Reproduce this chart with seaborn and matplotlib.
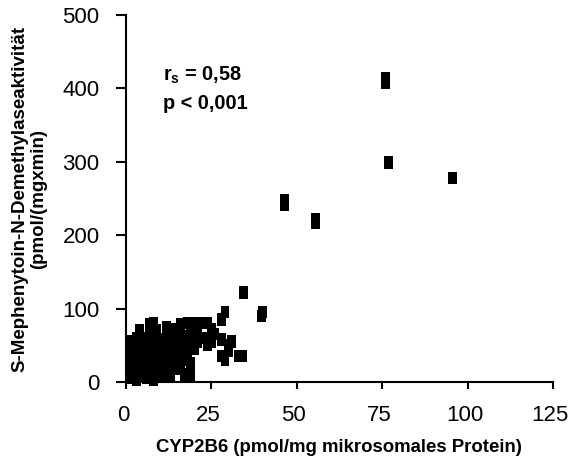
import numpy as np
import seaborn as sns
import matplotlib.pyplot as plt
import matplotlib.transforms as mtransforms

# CYP2B6 content vs S-mephenytoin N-demethylase activity
cyp2b6 = [1, 1, 1, 1, 1,
          2, 2, 2, 2,
          3, 3, 3, 3, 3,
          4, 4, 4, 4, 4,
          5, 5, 5, 5,
          6, 6, 6, 6,
          7, 7, 7, 7, 7,
          8, 8, 8, 8, 8,
          9, 9, 9, 9, 9,
          10, 10, 10,
          11, 11, 11, 11,
          12, 12, 12, 12, 12,
          13, 13, 13, 13, 13,
          14, 14, 14, 14,
          15, 15, 15, 15,
          16, 16, 16, 16,
          17, 17, 17, 17,
          18, 18, 18,
          19, 19, 19, 19,
          20, 20, 20,
          21, 21,
          22, 23, 24, 24, 25, 25, 26,
          28, 28, 28, 29, 29, 30, 30, 31, 33, 34,
          34.5, 39.7, 40, 46.3, 46.3, 55.5, 55.5, 76, 76, 77, 95.6]
activity = [5, 18, 30, 42, 55,
            10, 25, 38, 50,
            3, 15, 28, 45, 60,
            8, 22, 35, 52, 70,
            12, 30, 48, 60,
            5, 20, 40, 55,
            15, 28, 45, 62, 78,
            3, 25, 38, 50, 80,
            10, 30, 45, 60, 70,
            18, 35, 55,
            8, 25, 42, 58,
            15, 30, 48, 62, 75,
            10, 22, 40, 55, 70,
            28, 45, 60, 72,
            18, 35, 52, 65,
            25, 40, 58, 78,
            10, 30, 48, 62,
            40, 55, 80,
            10, 25, 50, 65,
            45, 60, 80,
            55, 70,
            80, 60, 80, 50, 55, 72, 65,
            85, 35, 58, 95, 30, 50, 42, 55, 35, 35,
            122, 90, 95, 242, 248, 217, 222, 408, 414, 299, 278]

sns.set_theme(style="white")
plt.rcParams['font.family'] = ['Liberation Sans', 'DejaVu Sans']
plt.rcParams['mathtext.fontset'] = 'custom'
plt.rcParams['mathtext.rm'] = 'Liberation Sans:bold'
plt.rcParams['mathtext.bf'] = 'Liberation Sans:bold'
plt.rcParams['text.color'] = 'black'
plt.rcParams['axes.labelcolor'] = 'black'

fig = plt.figure(figsize=(5.7, 4.59), dpi=100)
ax = fig.add_axes([0.221, 0.168, 0.749, 0.799])

rect = [(-0.36, -0.5), (0.36, -0.5), (0.36, 0.5), (-0.36, 0.5)]
sns.scatterplot(x=cyp2b6, y=activity, ax=ax, marker=rect, s=80,
                color='black', edgecolor='none', linewidth=0, clip_on=False)

ax.set_xlim(0, 125)
ax.set_ylim(0, 500)
ax.set_xticks([0, 25, 50, 75, 100, 125])
ax.set_yticks([0, 100, 200, 300, 400, 500])
sns.despine(ax=ax)
for side in ['left', 'bottom']:
    ax.spines[side].set_linewidth(1.5)
    ax.spines[side].set_color('black')
ax.tick_params(axis='x', direction='out', length=5, width=1.5, pad=12,
               labelsize=16, colors='black', bottom=True)
ax.tick_params(axis='y', direction='out', length=7, width=1.5, pad=12,
               labelsize=16, colors='black', left=True)

# labels sit a few pixels left of their ticks in the original
shift = mtransforms.ScaledTranslation(-3 / 100, 0, fig.dpi_scale_trans)
for lab in ax.get_xticklabels():
    lab.set_transform(lab.get_transform() + shift)

ax.set_xlabel("CYP2B6 (pmol/mg mikrosomales Protein)", fontsize=13.4,
              fontweight='bold', labelpad=9)
ax.set_ylabel("S-Mephenytoin-N-Demethylaseaktivität\n(pmol/(mgxmin)",
              fontsize=13.5, fontweight='bold', labelpad=11, linespacing=1.15)

ax.text(10.8, 418, r"r$_\mathregular{s}$ = 0,58", fontsize=14.3,
        fontweight='bold', va='center')
ax.text(10.8, 380, "p < 0,001", fontsize=14.3, fontweight='bold', va='center')

fig.savefig("out.png", dpi=100)
